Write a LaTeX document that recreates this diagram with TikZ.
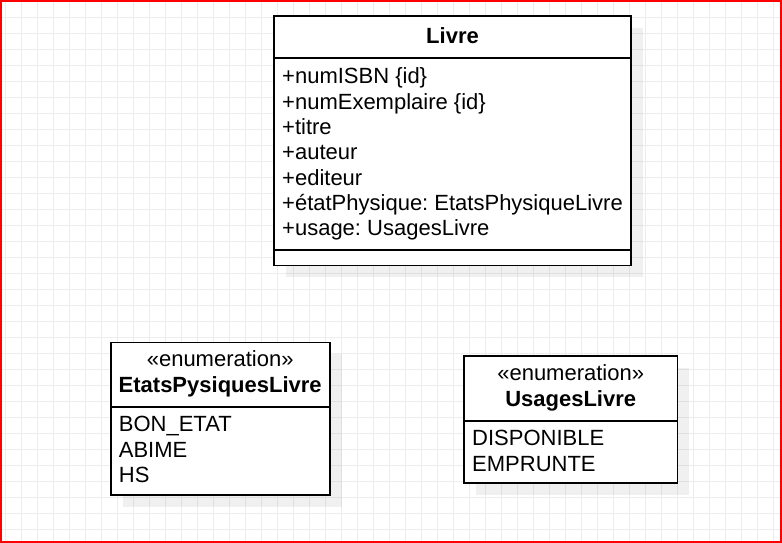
\documentclass[tikz,border=0pt]{standalone}
\usepackage{fontspec}
\setmainfont{Liberation Sans}
\usetikzlibrary{positioning,shadows}
\definecolor{frameRed}{HTML}{FF0000}
\definecolor{gridGray}{HTML}{EDEDED}
\frenchspacing

\begin{document}
\begin{tikzpicture}[
    x=1pt, y=-1pt,
    font=\fontsize{22}{25.3}\selectfont,
    gridline/.style={gridGray, line width=1pt},
    compart/.style={draw=black, line width=1.6pt, fill=white, inner sep=0pt, outer sep=0pt, anchor=north west,
        drop shadow={shadow xshift=12pt, shadow yshift=-12pt, fill=black, opacity=0.06}},
    entry/.style={anchor=base west, inner sep=0pt},
    stereo/.style={anchor=base, inner sep=0pt},
    classname/.style={anchor=base, inner sep=0pt, font=\fontsize{22}{25.3}\selectfont\bfseries}
]
\useasboundingbox (0,0) rectangle (782,543);

% Background grid.
\foreach \gx in {0,...,48}{
    \draw[gridline] (5.7+16*\gx,0) -- (5.7+16*\gx,543);
}
\foreach \gy in {0,...,33}{
    \draw[gridline] (0,1.3+16*\gy) -- (782,1.3+16*\gy);
}

% Livre class.
\node[compart, minimum width=357, minimum height=42.3] (livre) at (274,16) {};
\node[compart, minimum width=357, minimum height=191.7, below=0pt of livre] (livreattr) {};
\node[compart, minimum width=357, minimum height=15.3, below=0pt of livreattr] (livreops) {};
\node[classname] (livrename) at (452.5,43.3) {Livre};
\foreach \attr [count=\i from 0] in {+numISBN \{id\}, +numExemplaire \{id\}, +titre, +auteur, +editeur,
    +étatPhysique: EtatsPhysiqueLivre, +usage: UsagesLivre}{
    \node[entry] (livreattr\i) at (282,84+25.3*\i) {\attr};
}

% Enumeration of physical states.
\node[compart, minimum width=219, minimum height=64.4] (etats) at (110.7,342.3) {};
\node[compart, minimum width=219, minimum height=88.3, below=0pt of etats] (etatsvals) {};
\node[stereo] (etatsstereo) at (220.2,366.7) {«enumeration»};
\node[classname] (etatsname) at (220.2,392.7) {EtatsPysiquesLivre};
\foreach \val [count=\i from 0] in {BON\_ETAT, ABIME, HS}{
    \node[entry] (etatsval\i) at (118.7,431.7+25.3*\i) {\val};
}

% Enumeration of usages.
\node[compart, minimum width=213.3, minimum height=64.7] (usages) at (464,356) {};
\node[compart, minimum width=213.3, minimum height=62.3, below=0pt of usages] (usagesvals) {};
\node[stereo] (usagesstereo) at (570.7,380) {«enumeration»};
\node[classname] (usagesname) at (570.7,406) {UsagesLivre};
\foreach \val [count=\i from 0] in {DISPONIBLE, EMPRUNTE}{
    \node[entry] (usagesval\i) at (472,445.7+25.3*\i) {\val};
}

% Frame.
\draw[frameRed, line width=2pt] (1,1) rectangle (781,542);
\end{tikzpicture}
\end{document}
